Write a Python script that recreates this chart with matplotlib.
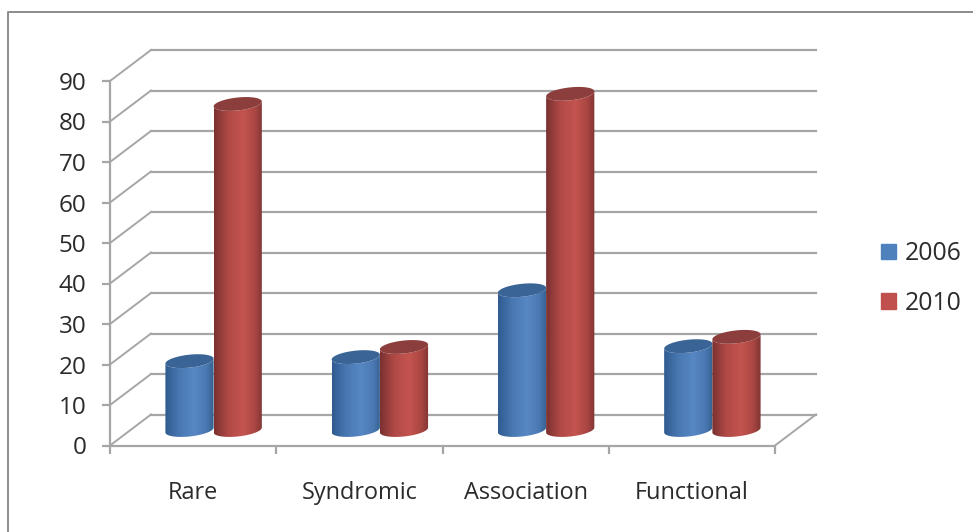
import numpy as np
import matplotlib
matplotlib.use("Agg")
import matplotlib.pyplot as plt
from matplotlib.colors import LinearSegmentedColormap
from matplotlib.lines import Line2D
from matplotlib.patches import Patch, Polygon
from matplotlib.transforms import Affine2D

categories = ["Rare", "Syndromic", "Association", "Functional"]
years = ["2006", "2010"]
values_2006 = [17, 18, 34.5, 20.7]
values_2010 = [80.5, 20.5, 83, 23]
y_ticks = list(range(0, 100, 10))

W, H = 973, 532
GRID = "#a6a6a6"
TEXT = "#2b2b2b"
DEPTH = (41, 31)          # px shift of the back wall
BAR_W = 0.29
ELL_H = 1.6               # ellipse half height, data units
ELL_TILT = 0.6            # ellipses lean up to the right

plt.rcParams["font.family"] = ["Open Sans", "DejaVu Sans"]

fig = plt.figure(figsize=(W / 100, H / 100), dpi=100)
ax = fig.add_axes([110 / W, 1 - 445.5 / H, 665 / W, 364.5 / H])
ax.patch.set_visible(False)

back = ax.transData + Affine2D().translate(*DEPTH)
middle = ax.transData + Affine2D().translate(DEPTH[0] / 2, DEPTH[1] / 2)

# ── cylinders ─────────────────────────────────────────────────────────────────
blue_map = LinearSegmentedColormap.from_list(
    "b", [(0, "#2f5b90"), (0.3, "#4a78b2"), (0.6, "#5788c4"), (0.85, "#4a78b2"), (1, "#35628f")])
red_map = LinearSegmentedColormap.from_list(
    "r", [(0, "#7a3130"), (0.3, "#b24a47"), (0.6, "#c4544f"), (0.85, "#a94643"), (1, "#7f3533")])


def cylinder(cx, value, cmap, top_color, z):
    x0, x1 = cx - BAR_W / 2, cx + BAR_W / 2
    t = np.linspace(np.pi, 2 * np.pi, 60)
    xs = cx + BAR_W / 2 * np.cos(t)
    lean = ELL_TILT * np.cos(t) + ELL_H * np.sin(t)
    outline = np.vstack([np.column_stack([xs, lean]),
                         np.column_stack([xs[::-1], value + lean[::-1]])])
    shade = np.linspace(0, 1, 128).reshape(1, -1)
    im = ax.imshow(shade, cmap=cmap, aspect="auto", interpolation="bilinear",
                   extent=(x0, x1, -3, value + 3), transform=middle, zorder=z)
    im.set_clip_path(Polygon(outline, transform=middle))
    tt = np.linspace(0, 2 * np.pi, 80)
    ax.fill(cx + BAR_W / 2 * np.cos(tt),
            value + ELL_TILT * np.cos(tt) + ELL_H * np.sin(tt),
            color=top_color, lw=0, transform=middle, clip_on=False, zorder=z + 0.1)


for i in range(len(categories)):
    cylinder(i + 0.5 - BAR_W / 2, values_2006[i], blue_map, "#3a6496", 3 + i * 2)
    cylinder(i + 0.5 + BAR_W / 2, values_2010[i], red_map, "#8c3e3c", 4 + i * 2)

ax.set_xlim(0, 4)
ax.set_ylim(0, 90)

# ── walls ─────────────────────────────────────────────────────────────────────
for v in y_ticks:
    ax.plot([0, 4], [v, v], color=GRID, lw=1.6, transform=back, clip_on=False, zorder=1)
    p0 = ax.transData.transform((0, v))
    p1 = back.transform((0, v))
    ax.add_line(Line2D([p0[0], p1[0]], [p0[1], p1[1]], color=GRID, lw=1.4,
                       transform=None, clip_on=False, zorder=1))
p0 = ax.transData.transform((4, 0))
p1 = back.transform((4, 0))
ax.add_line(Line2D([p0[0], p1[0]], [p0[1], p1[1]], color=GRID, lw=1.4,
                   transform=None, clip_on=False, zorder=1))

for s in ["top", "right"]:
    ax.spines[s].set_visible(False)
for s in ["left", "bottom"]:
    ax.spines[s].set_color(GRID)
    ax.spines[s].set_linewidth(1.6)

ax.set_yticks(y_ticks)
ax.set_xticks(range(5))
ax.set_xticklabels([])
ax.set_xticks(np.arange(len(categories)) + 0.5, labels=categories, minor=True)
ax.tick_params(axis="both", which="major", color=GRID, width=1.6, length=6)
ax.tick_params(axis="y", labelsize=17.5, labelcolor=TEXT, pad=11)
ax.tick_params(axis="x", which="minor", length=0, labelsize=16.9, labelcolor=TEXT, pad=25.5)

# ── legend ────────────────────────────────────────────────────────────────────
handles = [Patch(color="#4f81bd", label=years[0]), Patch(color="#c0504d", label=years[1])]
fig.legend(handles=handles, loc="center left", bbox_to_anchor=(874 / W, 1 - 278.5 / H),
           frameon=False, fontsize=17.8, labelcolor=TEXT, handlelength=0.6, handleheight=0.6,
           handletextpad=0.35, labelspacing=1.0, borderpad=0.3, borderaxespad=0)

# chart frame, only left and top remain in the crop
fig.add_artist(Line2D([7.5 / W, 7.5 / W, 1], [0, 1 - 12 / H, 1 - 12 / H], color="#8c8c8c", lw=1.4))

fig.savefig("out.png", dpi=100)
